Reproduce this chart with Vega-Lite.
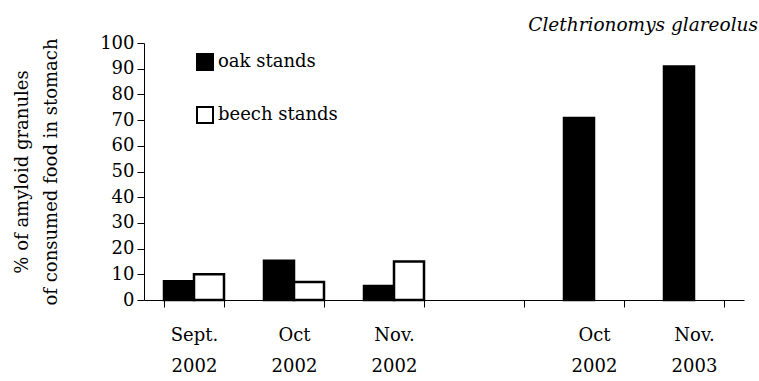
{
  "$schema": "https://vega.github.io/schema/vega-lite/v6.json",
  "width": 600,
  "height": 257,
  "autosize": "none",
  "padding": {"left": 144, "top": 43, "right": 15, "bottom": 81},
  "background": "white",
  "config": {
    "view": {"stroke": null},
    "axis": {"labelFont": "DejaVu Serif", "titleFont": "DejaVu Serif", "labelColor": "black", "titleColor": "black", "domainColor": "black", "tickColor": "black", "grid": false, "titleFontWeight": "normal"},
    "legend": {"labelFont": "DejaVu Serif"}
  },
  "title": {
    "text": "Clethrionomys glareolus",
    "font": "DejaVu Serif",
    "fontStyle": "italic",
    "fontWeight": "normal",
    "fontSize": 18.5,
    "color": "black",
    "anchor": "end",
    "frame": "group",
    "dx": 14,
    "offset": 0
  },
  "data": {
    "values": [
      {"cat": "Sept. 2002", "stand": "oak stands", "v": 7.3},
      {"cat": "Sept. 2002", "stand": "beech stands", "v": 10},
      {"cat": "Oct 2002", "stand": "oak stands", "v": 15.3},
      {"cat": "Oct 2002", "stand": "beech stands", "v": 7},
      {"cat": "Nov. 2002", "stand": "oak stands", "v": 5.4},
      {"cat": "Nov. 2002", "stand": "beech stands", "v": 15},
      {"cat": "Oct 2002 ", "stand": "oak stands", "v": 70.8},
      {"cat": "Nov. 2003", "stand": "oak stands", "v": 90.9}
    ]
  },
  "mark": {"type": "bar", "stroke": "black", "strokeWidth": 2.5},
  "encoding": {
    "x": {
      "field": "cat",
      "type": "nominal",
      "sort": null,
      "scale": {"domain": ["Sept. 2002", "Oct 2002", "Nov. 2002", " ", "Oct 2002 ", "Nov. 2003"], "paddingInner": 0.4, "paddingOuter": 0.2},
      "axis": {
        "title": null,
        "labelAngle": 0,
        "labelFontSize": 18,
        "labelLineHeight": 31,
        "labelPadding": 19,
        "labelExpr": "split(trim(datum.label), ' ')",
        "tickBand": "extent",
        "tickExtra": true,
        "tickSize": 7,
        "domainWidth": 1,
        "tickWidth": 1
      }
    },
    "xOffset": {
      "field": "stand",
      "type": "nominal",
      "scale": {"domain": ["oak stands", "beech stands"], "paddingInner": 0}
    },
    "y": {
      "field": "v",
      "type": "quantitative",
      "scale": {"domain": [0, 100], "nice": false},
      "axis": {
        "values": [0, 10, 20, 30, 40, 50, 60, 70, 80, 90, 100],
        "title": ["% of amyloid granules", "of consumed food in stomach"],
        "titleFontSize": 18,
        "titleLineHeight": 29,
        "titlePadding": 39,
        "labelFontSize": 18,
        "labelPadding": 3,
        "tickSize": 7,
        "domainWidth": 1,
        "tickWidth": 1
      }
    },
    "fill": {
      "field": "stand",
      "type": "nominal",
      "scale": {"domain": ["oak stands", "beech stands"], "range": ["black", "white"]},
      "legend": {
        "title": null,
        "orient": "none",
        "legendX": 52,
        "legendY": 10,
        "symbolType": "square",
        "symbolSize": 256,
        "symbolStrokeColor": "black",
        "symbolStrokeWidth": 2,
        "labelFontSize": 18,
        "labelColor": "black",
        "labelOffset": 4,
        "rowPadding": 29,
        "padding": 0
      }
    }
  }
}
